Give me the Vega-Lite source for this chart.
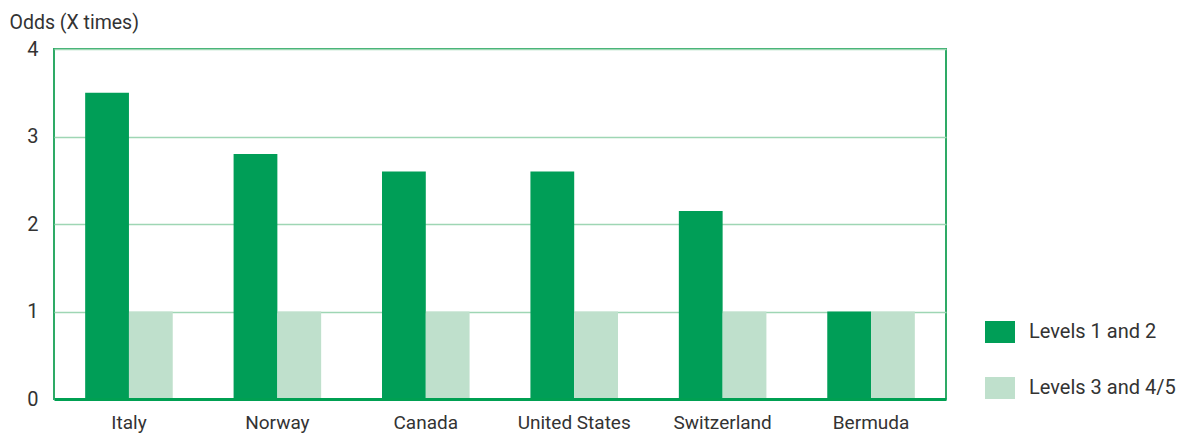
{
  "$schema": "https://vega.github.io/schema/vega-lite/v6.json",
  "width": 892,
  "height": 350,
  "autosize": "none",
  "padding": {"left": 54, "top": 49, "right": 235, "bottom": 35},
  "background": "white",
  "data": {
    "values": [
      {"country": "Italy", "level": "Levels 1 and 2", "odds": 3.5},
      {"country": "Italy", "level": "Levels 3 and 4/5", "odds": 1.0},
      {"country": "Norway", "level": "Levels 1 and 2", "odds": 2.8},
      {"country": "Norway", "level": "Levels 3 and 4/5", "odds": 1.0},
      {"country": "Canada", "level": "Levels 1 and 2", "odds": 2.6},
      {"country": "Canada", "level": "Levels 3 and 4/5", "odds": 1.0},
      {"country": "United States", "level": "Levels 1 and 2", "odds": 2.6},
      {"country": "United States", "level": "Levels 3 and 4/5", "odds": 1.0},
      {"country": "Switzerland", "level": "Levels 1 and 2", "odds": 2.15},
      {"country": "Switzerland", "level": "Levels 3 and 4/5", "odds": 1.0},
      {"country": "Bermuda", "level": "Levels 1 and 2", "odds": 1.0},
      {"country": "Bermuda", "level": "Levels 3 and 4/5", "odds": 1.0}
    ]
  },
  "config": {
    "view": {"stroke": "#2EAA66", "strokeWidth": 2},
    "font": "Roboto"
  },
  "mark": {"type": "bar"},
  "encoding": {
    "x": {
      "field": "country",
      "type": "nominal",
      "sort": null,
      "scale": {"paddingInner": 0.41, "paddingOuter": 0.21},
      "axis": {
        "title": null,
        "labelAngle": 0,
        "labelFont": "Roboto",
        "labelFontSize": 19,
        "labelColor": "#333333",
        "labelBaseline": "alphabetic",
        "labelPadding": 29,
        "ticks": false,
        "domainColor": "#00A052",
        "domainWidth": 3,
        "zindex": 1
      }
    },
    "xOffset": {"field": "level", "type": "nominal"},
    "y": {
      "field": "odds",
      "type": "quantitative",
      "scale": {"domain": [0, 4]},
      "axis": {
        "title": "Odds (X times)",
        "titleAngle": 0,
        "titleAlign": "left",
        "titleBaseline": "alphabetic",
        "titleX": -45,
        "titleY": -21,
        "titleFont": "Roboto",
        "titleFontSize": 19.5,
        "titleFontWeight": "normal",
        "titleColor": "#333333",
        "values": [0, 1, 2, 3, 4],
        "labelFont": "Roboto",
        "labelFontSize": 20,
        "labelColor": "#333333",
        "labelPadding": 16,
        "labelBaseline": "middle",
        "ticks": false,
        "domain": false,
        "grid": true,
        "gridColor": "#9ED6B4",
        "gridWidth": 1.5
      }
    },
    "color": {
      "field": "level",
      "type": "nominal",
      "scale": {"domain": ["Levels 1 and 2", "Levels 3 and 4/5"], "range": ["#009E57", "#BFE0CC"]},
      "legend": {
        "title": null,
        "orient": "none",
        "legendX": 935,
        "legendY": 272,
        "padding": 0,
        "symbolType": "M-1.364,-1H1.364V1H-1.364Z",
        "symbolSize": 484,
        "symbolStrokeWidth": 0,
        "symbolOpacity": 1,
        "labelFont": "Roboto",
        "labelFontSize": 20,
        "labelColor": "#333333",
        "labelOffset": 18,
        "rowPadding": 34
      }
    }
  }
}
